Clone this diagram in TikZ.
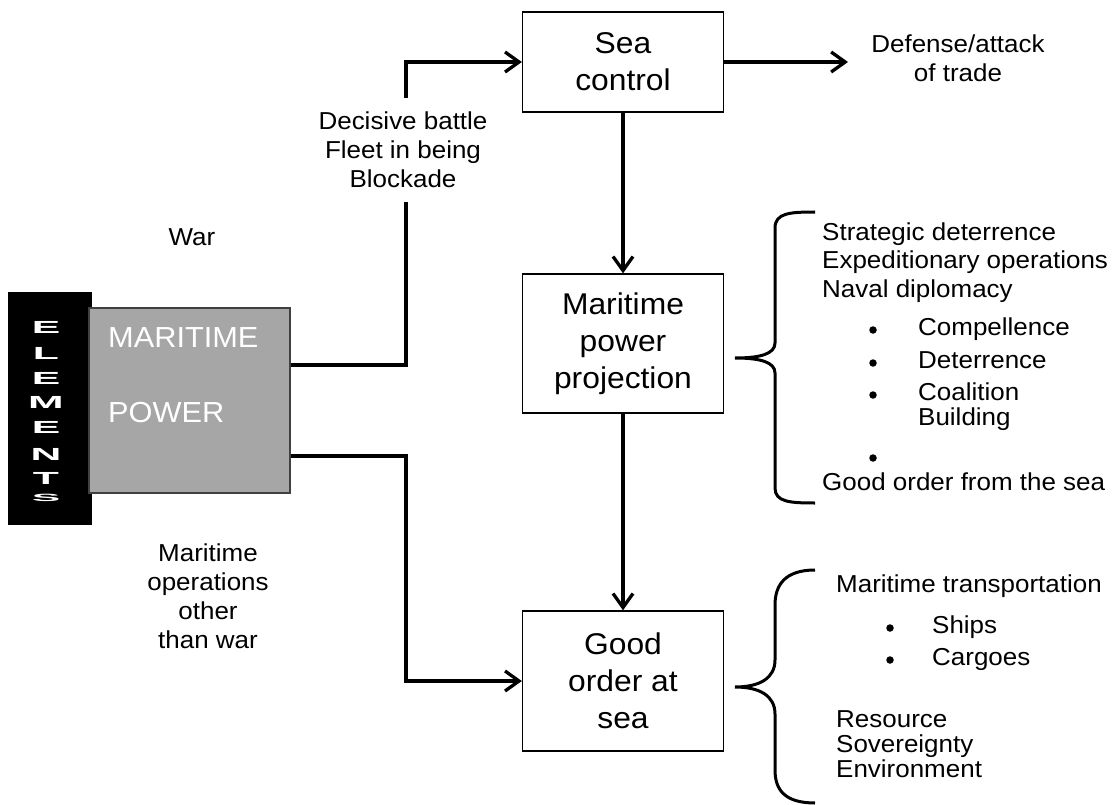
\documentclass[tikz,border=0pt]{standalone}
\usepackage{fontspec}
\setmainfont{Liberation Sans}[FakeStretch=1.06]
\usetikzlibrary{arrows.meta}
\newcommand{\bigtxt}{\fontsize{30}{37}\selectfont}
\newcommand{\smtxt}{\fontsize{24.5}{29}\selectfont}
\newcommand{\eltxt}{\fontsize{17.5}{17.5}\selectfont\bfseries}
\begin{document}
\begin{tikzpicture}[x=1pt,y=-1pt,
  arr/.style={-{Straight Barb[length=14pt,width=20pt]}, line width=3.3pt},
  stepbox/.style={draw, line width=1.3pt, minimum width=201pt, minimum height=140pt, align=center, font=\bigtxt, inner sep=0pt},
  lbl/.style={align=center, font=\smtxt, inner sep=0pt},
  item/.style={anchor=mid west, font=\smtxt, inner sep=0pt, yshift=-3pt},
  bul/.style={anchor=center, circle, fill=black, minimum size=7.5pt, inner sep=0pt},
  brace/.style={line width=3pt},
  elem/.style={text=white, font=\eltxt, inner sep=0pt},
  wtxt/.style={text=white, font=\fontsize{29}{29}\selectfont, inner sep=0pt, anchor=base west}]
\useasboundingbox (0,0) rectangle (1119,805);

% left element block
\fill[black] (8,292) rectangle (92,525);
\node[draw=black!75, line width=1.3pt, fill=black!35, minimum width=201pt, minimum height=185pt, inner sep=0pt] (mp) at (189.5,400.5) {};
\node[wtxt] (mpa) at (108,347) {MARITIME};
\node[wtxt] (mpb) at (108,422) {POWER};
\node[elem] (e1) at (46,327) {\scalebox{2.3}[1]{E}};
\node[elem] (e2) at (46,353) {\scalebox{2.3}[1]{L}};
\node[elem] (e3) at (46,378) {\scalebox{2.3}[1]{E}};
\node[elem] (e4) at (46,402) {\scalebox{2.3}[1]{M}};
\node[elem] (e5) at (46,427) {\scalebox{2.3}[1]{E}};
\node[elem] (e6) at (46,454) {\scalebox{2.3}[1]{N}};
\node[elem] (e7) at (46,478) {\scalebox{2.3}[1]{T}};
\node[elem] (e8) at (46,498) {\scalebox{2.3}[0.6]{S}};

% main boxes
\node[stepbox, minimum height=100pt] (sea) at (623,62) {Sea\\control};
\node[stepbox, minimum height=139pt] (mpp) at (623,343.5) {Maritime\\power\\projection};
\node[stepbox] (goa) at (623,681) {Good\\order at\\sea};

% connectors
\coordinate (ja) at (406,365);
\coordinate (jb) at (406,456);
\coordinate (dtip) at (848,62);
\draw[arr] (mp.east |- ja) -- (ja) |- (sea.west);
\draw[arr] (mp.east |- jb) -- (jb) |- (goa.west);
\draw[arr] (sea.south) -- (mpp.north);
\draw[arr] (mpp.south) -- (goa.north);
\draw[arr] (sea.east) -- (dtip);

% labels
\node[lbl, fill=white, inner ysep=14pt] (dec) at (403,150) {Decisive battle\\Fleet in being\\Blockade};
\node[lbl] (war) at (192,237) {War};
\node[lbl] (mootw) at (208,596) {Maritime\\operations\\other\\than war};
\node[lbl] (def) at (958,58) {Defense/attack\\of trade};

% brace 1
\draw[brace] (815,212) .. controls (790,212) and (775,213) .. (775,228) -- (775,343) .. controls (775,354) and (760,358) .. (735,358) .. controls (760,358) and (775,362) .. (775,373) -- (775,488) .. controls (775,502) and (790,503) .. (815,503);
\node[item] (l1a) at (822,235) {Strategic deterrence};
\node[item] (l1b) at (822,263) {Expeditionary operations};
\node[item] (l1c) at (822,292) {Naval diplomacy};
\node[bul] (b1) at (873,330) {};
\node[item] (l1d) at (918,330) {Compellence};
\node[bul] (b2) at (873,363) {};
\node[item] (l1e) at (918,363) {Deterrence};
\node[bul] (b3) at (873,395) {};
\node[item] (l1f) at (918,395) {Coalition};
\node[item] (l1g) at (918,420) {Building};
\node[bul] (b4) at (873,458) {};
\node[item] (l1h) at (822,485) {Good order from the sea};

% brace 2
\draw[brace] (815,570) .. controls (785,570) and (775,585) .. (775,605) -- (775,660) .. controls (775,678) and (760,687) .. (735,687) .. controls (760,687) and (775,696) .. (775,714) -- (775,770) .. controls (775,790) and (785,803) .. (815,803);
\node[item] (l2a) at (836,587) {Maritime transportation};
\node[bul] (b5) at (890,628) {};
\node[item] (l2b) at (932,628) {Ships};
\node[bul] (b6) at (890,660) {};
\node[item] (l2c) at (932,660) {Cargoes};
\node[item] (l2d) at (836,722) {Resource};
\node[item] (l2e) at (836,747) {Sovereignty};
\node[item] (l2f) at (836,772) {Environment};
\end{tikzpicture}
\end{document}
